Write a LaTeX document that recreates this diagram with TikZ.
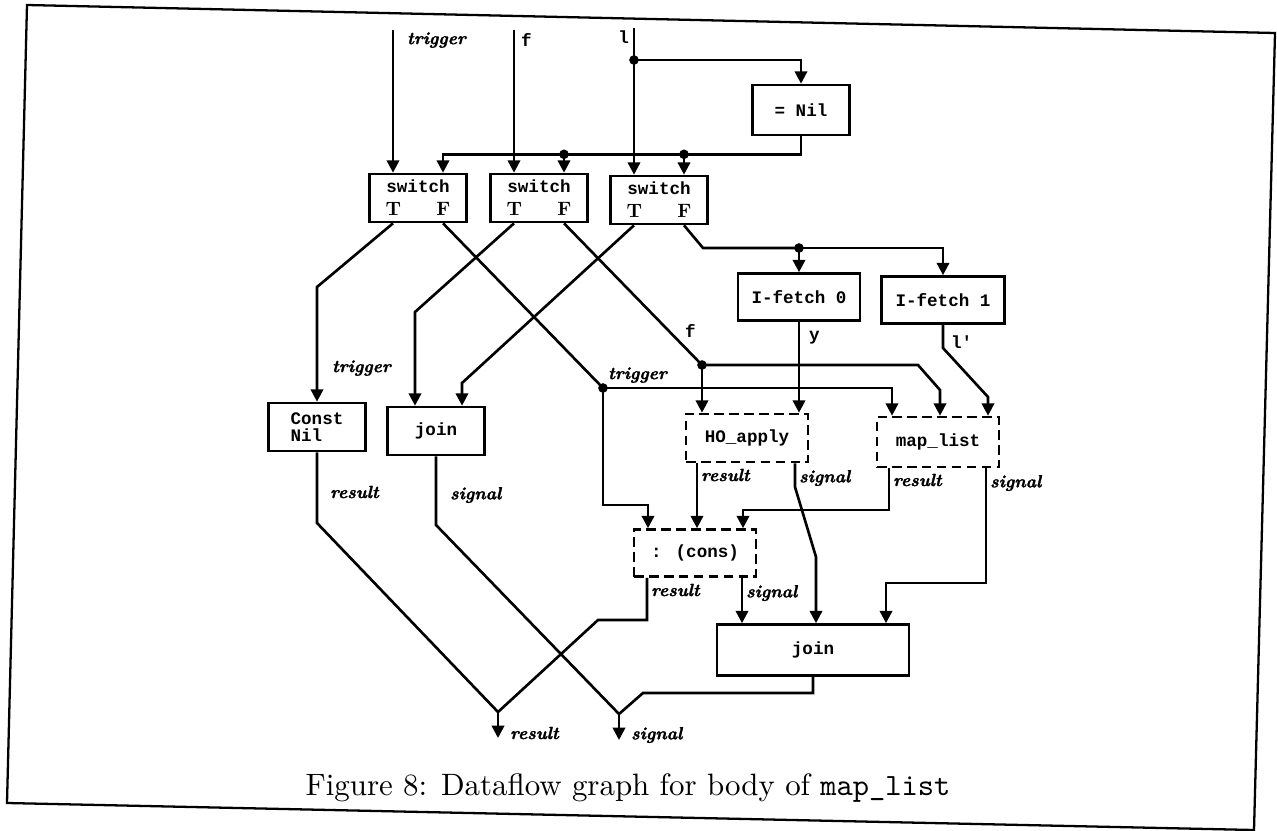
\documentclass[tikz,border=0pt]{standalone}
\usepackage{fontspec}
\newfontfamily\dfmono{Liberation Mono}
\newfontfamily\dfital[Extension=.otf,FakeBold=1.6]{lmroman10-bolditalic}
\newfontfamily\dfbold[Extension=.otf]{lmroman10-bold}
\newfontfamily\dfcap[Extension=.otf]{lmroman10-regular}
\newfontfamily\dfcaptt[Extension=.otf]{lmmono10-regular}
\usetikzlibrary{arrows.meta,calc}

\begin{document}
\begin{tikzpicture}[x=0.02cm,y=-0.02cm,
  dfbox/.style={draw,line width=1.5pt,minimum width=1.94cm,minimum height=0.96cm,
    inner sep=2pt,align=center,font=\dfmono\bfseries\fontsize{10}{12}\selectfont},
  dfdash/.style={dfbox,dash pattern=on 5.5pt off 3pt},
  dfarr/.style={-{Triangle[length=7pt,width=7pt]},line width=1.5pt},
  dfwire/.style={line width=1.5pt},
  dfdot/.style={circle,fill,minimum size=5.5pt,inner sep=0pt},
  dflbl/.style={font=\dfital\fontsize{10}{12}\selectfont,inner sep=1pt,anchor=west},
  dfvar/.style={font=\dfmono\bfseries\fontsize{10}{12}\selectfont,inner sep=1pt,anchor=west}
]
  \useasboundingbox (0,0) rectangle (1277,831);
  % Frame
  \draw[line width=1.3pt] (27,5) -- (1275,33) -- (1254,830) -- (7,803) -- cycle;

  % Inputs
  \coordinate (intrig) at (393,30);
  \coordinate (inf) at (514,30);
  \coordinate (inl) at (634,28);
  \node[dflbl] (ltrig) at (405,40) {trigger};
  \node[dfvar] (lf) at (519,40) {f};
  \node[dfvar,anchor=east] (ll) at (631,37) {l};

  % Nodes
  \node[dfbox,minimum height=1cm] (eqnil) at (801,110) {= Nil};
  \node[dfbox,font=\dfmono\bfseries\fontsize{10}{13}\selectfont] (sw1) at (418,198)
    {switch\\{\dfbold\fontsize{11}{12}\selectfont T\hspace{20pt}F}};
  \node[dfbox,font=\dfmono\bfseries\fontsize{10}{13}\selectfont] (sw2) at (539,198)
    {switch\\{\dfbold\fontsize{11}{12}\selectfont T\hspace{20pt}F}};
  \node[dfbox,font=\dfmono\bfseries\fontsize{10}{13}\selectfont] (sw3) at (659,200)
    {switch\\{\dfbold\fontsize{11}{12}\selectfont T\hspace{20pt}F}};
  \node[dfbox,minimum width=2.44cm,minimum height=0.94cm] (ifetch0) at (799,297) {I-fetch 0};
  \node[dfbox,minimum width=2.46cm,minimum height=0.94cm] (ifetch1) at (943,300) {I-fetch 1};
  \node[dfbox,align=left,font=\dfmono\bfseries\fontsize{10}{9.5}\selectfont] (constnil) at (317,427) {Const\\Nil};
  \node[dfbox] (join1) at (436,431) {join};
  \node[dfdash,minimum width=2.44cm] (hoapply) at (747,438) {HO\_apply};
  \node[dfdash,minimum width=2.44cm,minimum height=1cm] (maplist) at (938,442) {map\_list};
  \node[dfdash,minimum width=2.44cm,minimum height=0.94cm] (cons) at (695,553) {: (cons)};
  \node[dfbox,minimum width=3.84cm,minimum height=1.02cm] (join2) at (813,650) {join};

  % Switch ports
  \coordinate (sw1T) at ($(sw1.south)+(-25,0)$);
  \coordinate (sw1F) at ($(sw1.south)+(25,0)$);
  \coordinate (sw2T) at ($(sw2.south)+(-25,0)$);
  \coordinate (sw2F) at ($(sw2.south)+(25,0)$);
  \coordinate (sw3T) at ($(sw3.south)+(-25,0)$);
  \coordinate (sw3F) at ($(sw3.south)+(25,0)$);

  % Data inputs
  \draw[dfarr] (intrig) -- (intrig |- sw1.north);
  \draw[dfarr] (inf) -- (inf |- sw2.north);
  \draw[dfarr] (inl) -- (inl |- sw3.north);
  \node[dfdot] (ldot) at (634,60) {};
  \draw[dfarr] (ldot.center) -| (eqnil.north);

  % Control bus
  \coordinate (busr) at ($(eqnil.south)+(0,18)$);
  \node[dfdot] (bus2) at (busr -| sw2F) {};
  \node[dfdot] (bus3) at (busr -| sw3F) {};
  \draw[dfarr] (eqnil.south) -- (busr) -| ($(sw1.north)+(25,0)$);
  \draw[dfarr] (bus2.center) -- ($(sw2.north)+(25,0)$);
  \draw[dfarr] (bus3.center) -- ($(sw3.north)+(25,0)$);

  % Switch outputs
  \node[dfdot] (jtrig) at (603,388) {};
  \node[dfdot] (jf) at (702,365) {};
  \node[dfdot] (jl) at (799,248) {};
  \draw[dfarr] (sw1T) -- (317,287) -- (constnil.north);
  \node[dflbl] (ltrig2) at (330,368) {trigger};
  \draw[dfwire] (sw1F) -- (jtrig.center);
  \node[dflbl] (ltrig3) at (606,375) {trigger};
  \draw[dfarr] (jtrig.center) -| ($(maplist.north)+(-46,0)$);
  \draw[dfarr] (jtrig.center) -- (603,505) -| ($(cons.north)+(-47,0)$);
  \draw[dfarr] (sw2T) -- (415,312) -- ($(join1.north)+(-21,0)$);
  \draw[dfwire] (sw2F) -- (jf.center);
  \node[dfvar] (lf2) at (683,331) {f};
  \draw[dfarr] (jf.center) -- (jf |- hoapply.north);
  \draw[dfarr] (jf.center) -- (918,365) -- (940,390) -- ($(maplist.north)+(2,0)$);
  \draw[dfarr] (sw3T) -- (462,383) -- ($(join1.north)+(26,0)$);
  \draw[dfwire] (sw3F) -- (703,248) -- (jl.center);
  \draw[dfarr] (jl.center) -- (ifetch0.north);
  \draw[dfarr] (jl.center) -| (ifetch1.north);

  % Fetch outputs
  \draw[dfarr] (ifetch0.south) -- (ifetch0.south |- hoapply.north);
  \node[dfvar] (ly) at (807,338) {y};
  \draw[dfarr] (ifetch1.south) -- (943,348) -- (988,397) -- ($(maplist.north)+(50,0)$);
  \node[dfvar] (ll2) at (949,342) {l'};

  % Results
  \coordinate (resj) at (498,712);
  \coordinate (resout) at (498,738);
  \coordinate (sigj) at (619,714);
  \coordinate (sigout) at (619,740);
  \draw[dfwire] (constnil.south) -- (317,523) -- (resj);
  \node[dflbl] (lres1) at (328,492) {result};
  \draw[dfwire] (join1.south) -- (436,525) -- (sigj);
  \node[dflbl] (lsig1) at (448,495) {signal};
  \draw[dfarr] ($(hoapply.south)+(-50,0)$) -- ($(cons.north)+(2,0)$);
  \node[dflbl] (lres2) at (699,475) {result};
  \draw[dfarr] ($(hoapply.south)+(48,0)$) -- (795,487) -- (816,557) -- ($(join2.north)+(3,0)$);
  \node[dflbl] (lsig2) at (797,478) {signal};
  \draw[dfarr] ($(maplist.south)+(-49,0)$) -- (889,510) -| ($(cons.north)+(48,0)$);
  \node[dflbl] (lres3) at (891,480) {result};
  \draw[dfarr] ($(maplist.south)+(48,0)$) -- (986,583) -| ($(join2.north)+(73,0)$);
  \node[dflbl] (lsig3) at (988,483) {signal};
  \draw[dfwire] ($(cons.south)+(-48,0)$) -- (647,620) -- (598,620) -- (resj);
  \node[dflbl] (lres4) at (649,590) {result};
  \draw[dfarr] ($(cons.south)+(47,0)$) -- ($(join2.north)+(-71,0)$);
  \node[dflbl] (lsig4) at (744,593) {signal};
  \draw[dfwire] (join2.south) -- (813,693) -- (643,693) -- (sigj);
  \draw[dfarr] (resj) -- (resout);
  \draw[dfarr] (sigj) -- (sigout);
  \node[dflbl] (lres5) at (508,733) {result};
  \node[dflbl] (lsig5) at (629,735) {signal};

  % Caption
  \node[font=\dfcap\fontsize{17.6}{19}\selectfont] (cap) at (628,788)
    {Figure 8: Dataflow graph for body of {\dfcaptt map\_list}};
\end{tikzpicture}
\end{document}
